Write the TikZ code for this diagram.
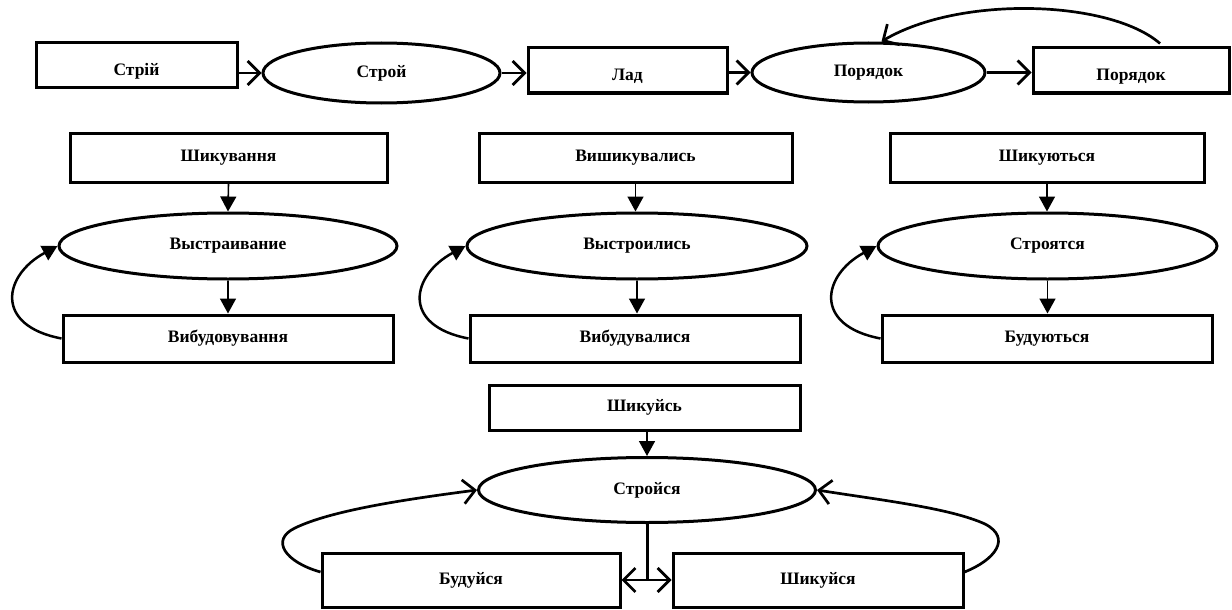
\documentclass[tikz,border=0pt]{standalone}
\usepackage{fontspec}
\setmainfont{Liberation Serif}
\usetikzlibrary{arrows.meta,shapes.geometric,calc}
\begin{document}
\begin{tikzpicture}[x=1pt,y=-1pt,
  lbl/.style={font=\bfseries\fontsize{17.5}{20}\selectfont},
  box/.style={draw, line width=3pt, rectangle, inner sep=0pt, lbl},
  ell/.style={draw, line width=3pt, ellipse, inner sep=0pt, lbl},
  lowtext/.style={text height=20pt, text depth=0pt},
  openarr/.style={line width=2.7pt, -{Straight Barb[length=12pt,width=24pt]}},
  downarr/.style={line width=1.6pt, -{Triangle[length=15pt,width=16pt]}},
  looparr/.style={line width=2.5pt, -{Triangle[length=15pt,width=16pt]}},
]
\useasboundingbox (0,0) rectangle (1232,610);

% top row
\node[box, lowtext, minimum width=201, minimum height=45] (a1) at (136.5,65.5) {Стрій};
\node[ell, minimum width=237, minimum height=60] (b1) at (381.5,73) {Строй};
\node[box, lowtext, minimum width=199, minimum height=45] (c1) at (627.5,70.5) {Лад};
\node[ell, minimum width=233, minimum height=59] (d1) at (868.5,72.5) {Порядок};
\node[box, lowtext, minimum width=196, minimum height=45] (e1) at (1131,70.5) {Порядок};

\draw[openarr] (a1.east |- b1.west) -- (b1.west);
\draw[openarr] (b1.east) -- (c1.west |- b1.east);
\draw[openarr] (c1.east |- d1.west) -- (d1.west);
\draw[openarr] (d1.east) -- (e1.west |- d1.east);
\draw[openarr] ($(e1.north)+(29,-3)$) .. controls (1110,0) and (960,-5) .. ($(d1.north)+(13,0)$);

% middle row, left
\node[box, minimum width=317, minimum height=49] (m1) at (228.5,157.5) {Шикування};
\node[ell, minimum width=338, minimum height=66] (m2) at (228,246) {Выстраивание};
\node[box, minimum width=330, minimum height=47] (m3) at (228,338.5) {Вибудовування};
\draw[downarr] (m1.south) -- (m2.north);
\draw[downarr] (m2.south) -- (m3.north);
\draw[looparr] (m3.west) .. controls +(-68,-13) and +(-54,29) .. (m2.west);

% middle row, centre
\node[box, minimum width=313, minimum height=49] (n1) at (635.5,157.5) {Вишикувались};
\node[ell, minimum width=340, minimum height=66] (n2) at (637,246) {Выстроились};
\node[box, minimum width=330, minimum height=47] (n3) at (635,338.5) {Вибудувалися};
\draw[downarr] (n1.south) -- (n1.south |- n2.north);
\draw[downarr] (n2.south) -- (n2.south |- n3.north);
\draw[looparr] (n3.west) .. controls +(-68,-13) and +(-54,29) .. (n2.west);

% middle row, right
\node[box, minimum width=314, minimum height=49] (r1) at (1047,157.5) {Шикуються};
\node[ell, minimum width=339, minimum height=66] (r2) at (1047.5,246) {Строятся};
\node[box, minimum width=330, minimum height=47] (r3) at (1047,338.5) {Будуються};
\draw[downarr] (r1.south) -- (r1.south |- r2.north);
\draw[downarr] (r2.south) -- (r2.south |- r3.north);
\draw[looparr] (r3.west) .. controls +(-68,-13) and +(-54,29) .. (r2.west);

% bottom group
\node[box, minimum width=311, minimum height=45] (s1) at (644.5,407.5) {Шикуйсь};
\node[ell, minimum width=337, minimum height=65] (s2) at (647,490) {Стройся};
\node[box, minimum width=298, minimum height=54] (s3) at (471,580) {Будуйся};
\node[box, minimum width=290, minimum height=54] (s4) at (818,580) {Шикуйся};
\coordinate (j) at (s2.south |- s3.east);
\draw[downarr] (s1.south -| s2.north) -- (s2.north);
\draw[line width=3pt] (s2.south) -- (j);
\draw[openarr] (j) -- (s3.east);
\draw[openarr] (j) -- (s4.west);
\draw[openarr] ($(s3.west)+(0,-8)$) .. controls (285,562) and (270,540) .. (295,528)
  .. controls (330,511) and (400,500) .. (s2.west);
\draw[openarr] ($(s4.east)+(0,-8)$) .. controls (995,560) and (1012,538) .. (985,524)
  .. controls (950,508) and (880,500) .. (s2.east);
\end{tikzpicture}
\end{document}
